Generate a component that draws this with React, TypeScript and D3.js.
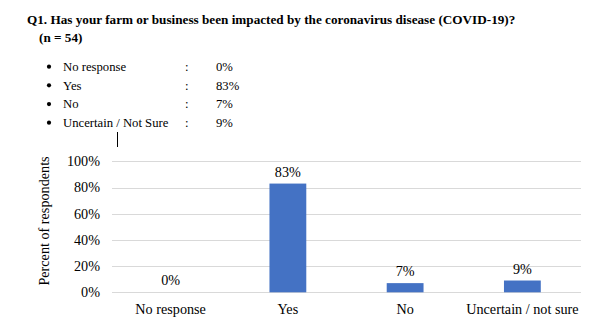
import React from "react";
import * as d3 from "d3";

const categories = ["No response", "Yes", "No", "Uncertain / not sure"];
const values = [0, 83, 7, 9];
const yTicks = [0, 20, 40, 60, 80, 100];
const bulletLabels = ["No response", "Yes", "No", "Uncertain / Not Sure"];
const bulletValues = ["0%", "83%", "7%", "9%"];
const titleLine1 = "Q1. Has your farm or business been impacted by the coronavirus disease (COVID-19)?";
const titleLine2 = "(n = 54)";

const W = 604;
const H = 327;
const FONT = "Liberation Serif, Times New Roman, serif";
const AX = 14.2;

export default function App() {
  const x = d3
    .scaleBand<string>()
    .domain(categories)
    .range([112, 581])
    .paddingInner(0.686)
    .paddingOuter(0.343);
  const y = d3.scaleLinear().domain([0, 100]).range([292.3, 161.3]);
  const rowY = d3.scaleLinear().domain([0, 3]).range([71, 127]);
  const ts: React.CSSProperties = { fontFamily: FONT };

  return (
    <svg
      width={W}
      height={H}
      style={{ position: "absolute", left: 0, top: 0, background: "#fff", fontFamily: FONT }}
    >
      <rect width={W} height={H} fill="#fff" />
      <text x={27} y={24} fontSize={13.2} fontWeight="bold" fill="#000" style={ts}>
        {titleLine1}
      </text>
      <text x={39} y={42} fontSize={13.2} fontWeight="bold" fill="#000" style={ts}>
        {titleLine2}
      </text>
      {bulletLabels.map((b, i) => (
        <g key={b}>
          <circle cx={49} cy={rowY(i) - 4.3} r={2.1} fill="#000" />
          <text x={63} y={rowY(i)} fontSize={12.7} fill="#000" style={ts}>
            {b}
          </text>
          <text x={185} y={rowY(i)} fontSize={12.7} fill="#000" style={ts}>
            :
          </text>
          <text x={216} y={rowY(i)} fontSize={12.7} fill="#000" style={ts}>
            {bulletValues[i]}
          </text>
        </g>
      ))}
      <line x1={117.5} x2={117.5} y1={132} y2={147} stroke="#000" strokeWidth={1} />
      {yTicks.map((t) => (
        <g key={t}>
          <line
            x1={112}
            x2={581}
            y1={Math.round(y(t)) + 0.5}
            y2={Math.round(y(t)) + 0.5}
            stroke="#d9d9d9"
            strokeWidth={1}
          />
          <text
            x={100}
            y={y(t)}
            dy="0.35em"
            textAnchor="end"
            fontSize={AX}
            fill="#000"
            style={ts}
          >
            {t}%
          </text>
        </g>
      ))}
      {categories.map((c, i) => (
        <g key={c}>
          <rect
            x={x(c)}
            y={y(values[i])}
            width={x.bandwidth()}
            height={y(0) - y(values[i])}
            fill="#4472c4"
          />
          <text
            x={(x(c) as number) + x.bandwidth() / 2}
            y={y(values[i]) - 7}
            textAnchor="middle"
            fontSize={AX}
            fill="#000"
            style={ts}
          >
            {values[i]}%
          </text>
          <text
            x={(x(c) as number) + x.bandwidth() / 2}
            y={314}
            textAnchor="middle"
            fontSize={AX}
            fill="#000"
            style={ts}
          >
            {c}
          </text>
        </g>
      ))}
      <text
        transform={`translate(49,${221}) rotate(-90)`}
        textAnchor="middle"
        fontSize={AX}
        fill="#000"
        style={ts}
      >
        Percent of respondents
      </text>
    </svg>
  );
}
